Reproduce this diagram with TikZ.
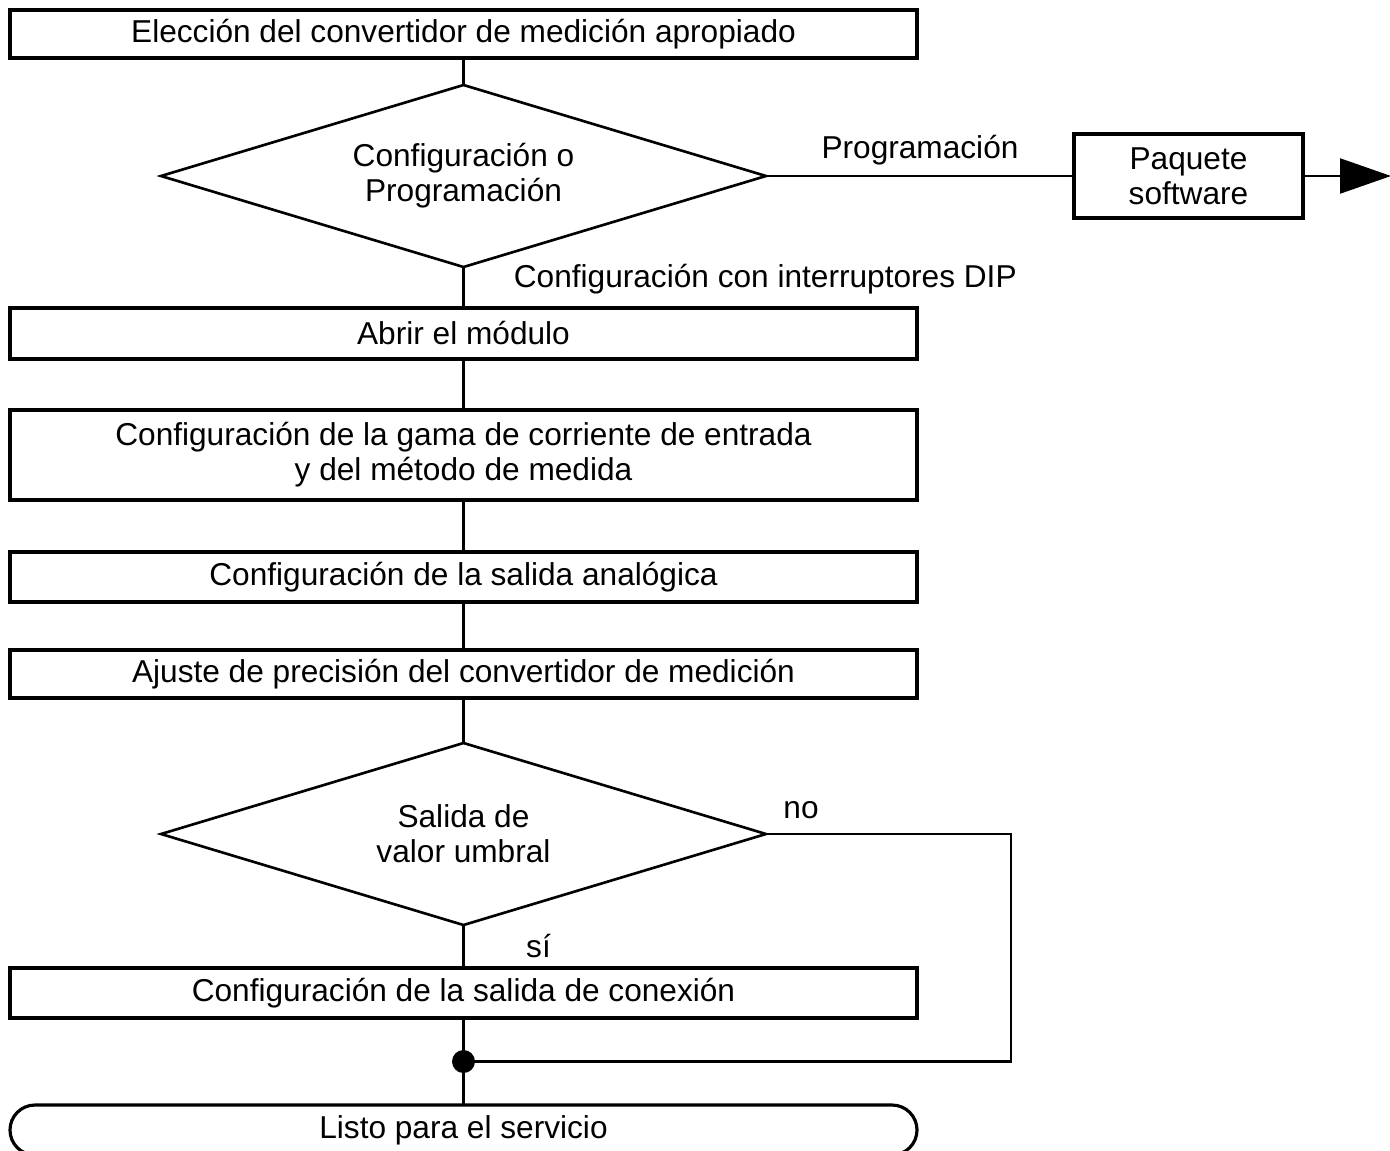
\documentclass[tikz,border=0pt]{standalone}
\usepackage{fontspec}
\setmainfont{Liberation Sans}
\usetikzlibrary{shapes.geometric, arrows.meta, positioning, calc}
\tikzstyle{line} = [line width=1.3pt]
\tikzstyle{arrow} = [line width=1.3pt, -{Triangle[length=1.02cm, width=0.7cm]}]
\tikzstyle{process} = [rectangle, minimum width=18.14cm, minimum height=0.96cm, text centered, align=center, inner sep=0pt, outer sep=0pt, draw=black, line width=1.8pt]
\tikzstyle{decision} = [diamond, shape aspect=3.32, minimum width=12.1cm, minimum height=3.64cm, text centered, align=center, inner sep=0pt, outer sep=0pt, draw=black, line width=1.5pt]
\tikzstyle{lbl} = [inner sep=0pt]

\begin{document}
\begin{tikzpicture}[font=\fontsize{18}{20}\selectfont]
    \useasboundingbox (0,0) rectangle (27.8,-23);

    % Pasos principales
    \node (elec) [process] at (9.27,-0.68) {Elección del convertidor de medición apropiado};
    \node (dia1) [decision, below=0.54cm of elec] {Configuración o\\Programación};
    \node (paq) [process, minimum width=4.58cm, minimum height=1.68cm, right=6.16cm of dia1] {Paquete\\software};
    \coordinate [right=1.76cm of paq] (fin);
    \node (abrir) [process, minimum height=1.02cm, below=0.82cm of dia1] {Abrir el módulo};
    \node (gama) [process, minimum height=1.8cm, below=1.02cm of abrir] {Configuración de la gama de corriente de entrada\\y del método de medida};
    \node (anal) [process, minimum height=1cm, below=1.04cm of gama] {Configuración de la salida analógica};
    \node (ajus) [process, below=0.96cm of anal] {Ajuste de precisión del convertidor de medición};
    \node (dia2) [decision, below=0.9cm of ajus] {Salida de\\valor umbral};
    \node (conex) [process, minimum height=1cm, below=0.86cm of dia2] {Configuración de la salida de conexión};
    \node (listo) [process, rounded corners=0.5cm, minimum height=1cm, below=1.74cm of conex] {Listo para el servicio};

    % Punto de unión
    \node (dot) [circle, fill=black, inner sep=0pt, minimum size=0.46cm] at ($(conex.south)!0.5!(listo.north)$) {};

    % Etiquetas
    \node (dip) [lbl, anchor=west] at ($(dia1.south)+(1cm,-0.24cm)$) {Configuración con interruptores DIP};
    \node (no) [lbl] at ($(dia2.east)+(0.7cm,0.48cm)$) {no};
    \node (si) [lbl] at ($(dia2.south)+(1.5cm,-0.42cm)$) {sí};

    % Líneas
    \draw [line] (elec) -- (dia1);
    \draw [line] (dia1) -- node[lbl, yshift=0.52cm] {Programación} (paq);
    \draw [arrow] (paq) -- (fin);
    \draw [line] (dia1) -- (abrir);
    \draw [line] (abrir) -- (gama);
    \draw [line] (gama) -- (anal);
    \draw [line] (anal) -- (ajus);
    \draw [line] (ajus) -- (dia2);
    \draw [line] (dia2) -- (conex);
    \draw [line] (conex) -- (listo);
    \draw [line] (dia2.east) -- ++(4.9,0) |- (dot);
\end{tikzpicture}
\end{document}
